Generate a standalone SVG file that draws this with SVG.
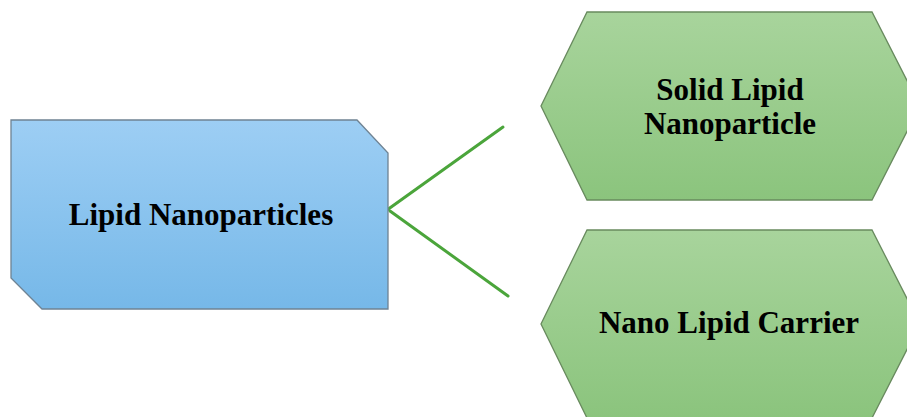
<svg xmlns="http://www.w3.org/2000/svg" width="907" height="417" viewBox="0 0 907 417">
<defs>
<linearGradient id="gBlue" x1="0" y1="0" x2="0" y2="1">
<stop offset="0" stop-color="#9dcef4"/>
<stop offset="1" stop-color="#76b8e8"/>
</linearGradient>
<linearGradient id="gGreen" x1="0" y1="0" x2="0" y2="1">
<stop offset="0" stop-color="#a8d49c"/>
<stop offset="1" stop-color="#8bc47d"/>
</linearGradient>
</defs>
<style>
.lbl{font-family:"Liberation Serif","Times New Roman",serif;font-weight:bold;font-size:31px;fill:#000;text-anchor:middle}
.blue{fill:url(#gBlue);stroke:#6f8393;stroke-width:1.3}
.green{fill:url(#gGreen);stroke:#688a5e;stroke-width:1.3}
.conn{stroke:#4ba53b;stroke-width:3;fill:none;stroke-linecap:round}
</style>
<rect width="907" height="417" fill="#fff"/>
<g id="connectors">
<line class="conn" x1="387" y1="210" x2="503" y2="127"/>
<line class="conn" x1="390" y1="211" x2="508" y2="296"/>
</g>
<g id="lipid-nanoparticles">
<polygon class="blue" points="11,120 357,120 388,153 388,309 42,309 11,278"/>
<text class="lbl" x="201" y="225">Lipid Nanoparticles</text>
</g>
<g id="solid-lipid-nanoparticle">
<polygon class="green" points="587,12 872,12 920,106 872,200 587,200 541,106"/>
<text class="lbl" x="730" y="100">Solid Lipid</text>
<text class="lbl" x="730" y="134">Nanoparticle</text>
</g>
<g id="nano-lipid-carrier">
<polygon class="green" points="587,230 872,230 920,324 872,418 587,418 541,324"/>
<text class="lbl" x="729" y="333">Nano Lipid Carrier</text>
</g>
</svg>
